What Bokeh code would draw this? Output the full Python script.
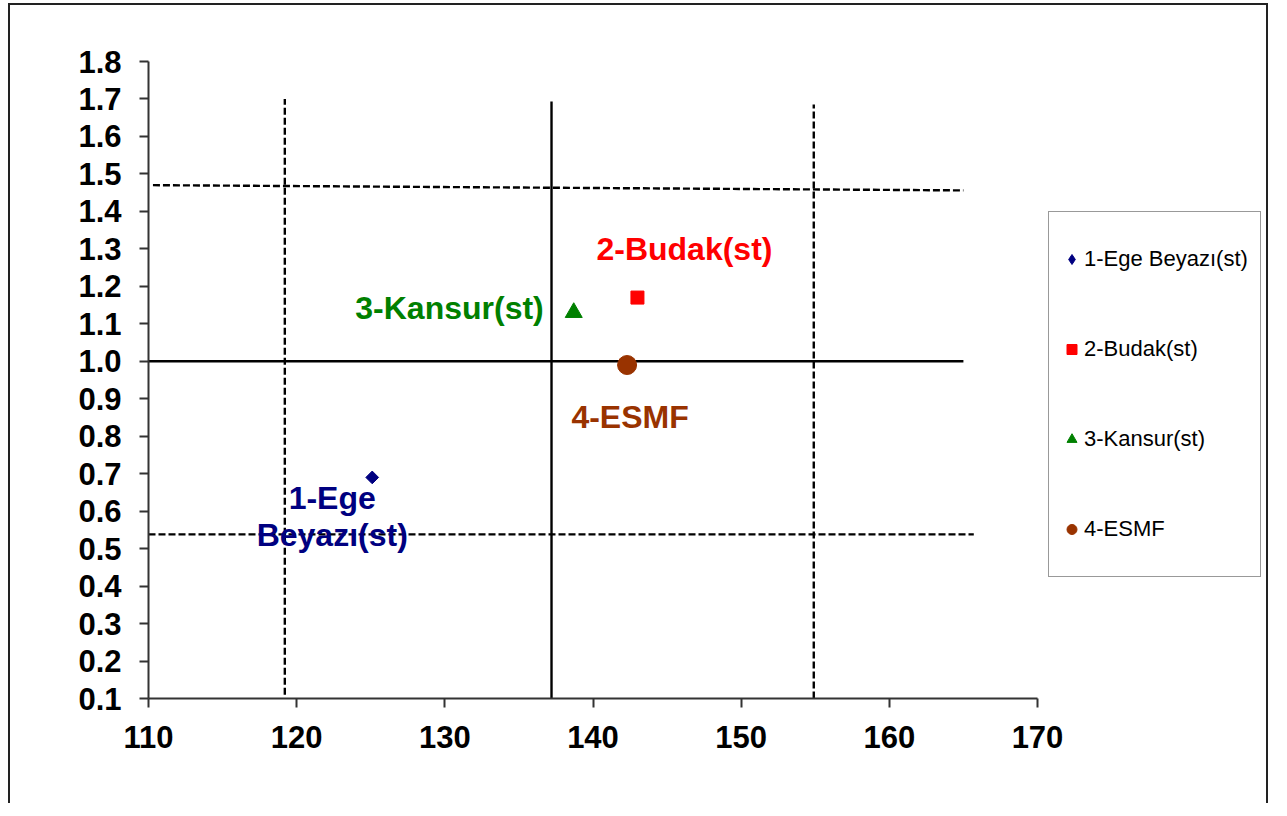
import math
from bokeh.plotting import figure
from bokeh.models import Range1d, FixedTicker, PrintfTickFormatter, Legend, LegendItem
from bokeh.core.properties import value
from bokeh.embed import file_html
from bokeh.resources import INLINE

# ---- data ----
genotypes = ["1-Ege Beyazı(st)", "2-Budak(st)", "3-Kansur(st)", "4-ESMF"]
point_labels = ["1-Ege\nBeyazı(st)", "2-Budak(st)", "3-Kansur(st)", "4-ESMF"]
x_vals = [125.1, 143.0, 138.7, 142.3]
y_vals = [0.69, 1.17, 1.13, 0.99]

x_ticks = [110, 120, 130, 140, 150, 160, 170]
y_ticks = [0.1, 0.2, 0.3, 0.4, 0.5, 0.6, 0.7, 0.8, 0.9, 1.0, 1.1, 1.2, 1.3, 1.4, 1.5, 1.6, 1.7, 1.8]
x_axis_min, x_axis_max = 110, 170
y_axis_min, y_axis_max = 0.1, 1.8

# reference lines
vline_x = [119.2, 137.2, 154.9]
vline_y0 = [0.11, 0.1, 0.1]
vline_y1 = [1.70, 1.693, 1.685]
hline_x0 = [110.3, 110.0, 110.0]
hline_x1 = [165.0, 165.0, 165.7]
hline_y0 = [1.47, 1.0, 0.538]
hline_y1 = [1.456, 1.0, 0.538]

# ---- styles / layout ----
colors = ["#000080", "#FF0000", "#008000", "#993300"]
markers = ["square", "square", "triangle", "circle"]
angles = [math.pi / 4, 0, 0, 0]
sizes = [9, 13, 17, 19]
legend_markers = ["diamond", "square", "triangle", "circle"]
vline_dash = ["7 3", "solid", "7 3"]
hline_dash = ["7 3", "solid", "7 3"]
label_dx = [-40, 47, -30, 3]
label_dy = [39, -49, -5, 52]
label_align = ["center", "center", "right", "center"]

FIG_W, FIG_H = 1260, 800
BORDER_L, BORDER_T, BORDER_B = 138, 56, 107
AXIS_PX = 889                      # pixel length of the visible x axis (110..170)
frame_w = FIG_W - BORDER_L         # frame extends to the right edge (legend area)
x_view_end = x_axis_min + (x_axis_max - x_axis_min) * frame_w / AXIS_PX

p = figure(width=FIG_W, height=FIG_H, output_backend="svg", toolbar_location=None,
           x_range=Range1d(x_axis_min, x_view_end), y_range=Range1d(y_axis_min, y_axis_max),
           min_border_left=BORDER_L, min_border_right=0, min_border_top=BORDER_T,
           min_border_bottom=BORDER_B)
p.styles = {"border": "2px solid #222222", "border-bottom": "none",
            "margin-left": "8px", "margin-top": "3px"}
p.outline_line_color = None
p.xgrid.visible = False
p.ygrid.visible = False
p.background_fill_color = "white"
p.border_fill_color = "white"

for ax in (p.xaxis[0], p.yaxis[0]):
    ax.axis_line_color = "#333333"
    ax.axis_line_width = 2
    ax.major_tick_line_color = "#333333"
    ax.major_tick_line_width = 2
    ax.major_tick_in = 0
    ax.major_tick_out = 9
    ax.minor_tick_line_color = None
    ax.major_label_text_font = "Liberation Sans"
    ax.major_label_text_font_style = "bold"
    ax.major_label_text_font_size = "31px"
    ax.major_label_text_color = "black"

p.xaxis.bounds = (x_axis_min, x_axis_max)
p.xaxis.ticker = FixedTicker(ticks=x_ticks)
p.yaxis.ticker = FixedTicker(ticks=y_ticks)
p.yaxis.formatter = PrintfTickFormatter(format="%.1f")
p.yaxis.major_label_standoff = 18
p.xaxis.major_label_standoff = 18

# reference lines
for i in range(len(vline_x)):
    p.segment(x0=[vline_x[i]], y0=[vline_y0[i]], x1=[vline_x[i]], y1=[vline_y1[i]],
              line_color="black", line_width=2.4, line_dash=vline_dash[i])
for i in range(len(hline_y0)):
    p.segment(x0=[hline_x0[i]], y0=[hline_y0[i]], x1=[hline_x1[i]], y1=[hline_y1[i]],
              line_color="black", line_width=2.4, line_dash=hline_dash[i])

items = []
for i in range(len(genotypes)):
    p.scatter(x=[x_vals[i]], y=[y_vals[i]], marker=markers[i], size=sizes[i], angle=angles[i],
              fill_color=colors[i], line_color=colors[i])
    # legend proxy (zero size in plot; legend sizes its own glyph)
    proxy = p.scatter(x=[x_vals[i]], y=[y_vals[i]], marker=legend_markers[i], size=0,
                      fill_color=colors[i], line_color=colors[i])
    items.append(LegendItem(label=genotypes[i], renderers=[proxy]))
    p.text(x=[x_vals[i]], y=[y_vals[i]], text=[point_labels[i]],
           x_offset=label_dx[i], y_offset=label_dy[i],
           text_align=label_align[i], text_baseline="middle",
           text_font=value("Liberation Sans"), text_font_style="bold",
           text_font_size="32px", text_color=colors[i], text_line_height=1.05)

legend = Legend(items=items, location=(AXIS_PX + 11, 121), orientation="vertical")
legend.padding = 10
legend.spacing = 16
legend.glyph_width = 25
legend.glyph_height = 74
legend.label_height = 74
legend.label_width = 166
legend.label_standoff = 0
legend.margin = 0
legend.label_text_font = "Liberation Sans"
legend.label_text_font_size = "22px"
legend.label_text_color = "black"
legend.border_line_color = "#333333"
legend.border_line_width = 1.5
legend.background_fill_color = "white"
legend.background_fill_alpha = 1
p.add_layout(legend, "center")

open("out.html", "w").write(file_html(p, INLINE))
